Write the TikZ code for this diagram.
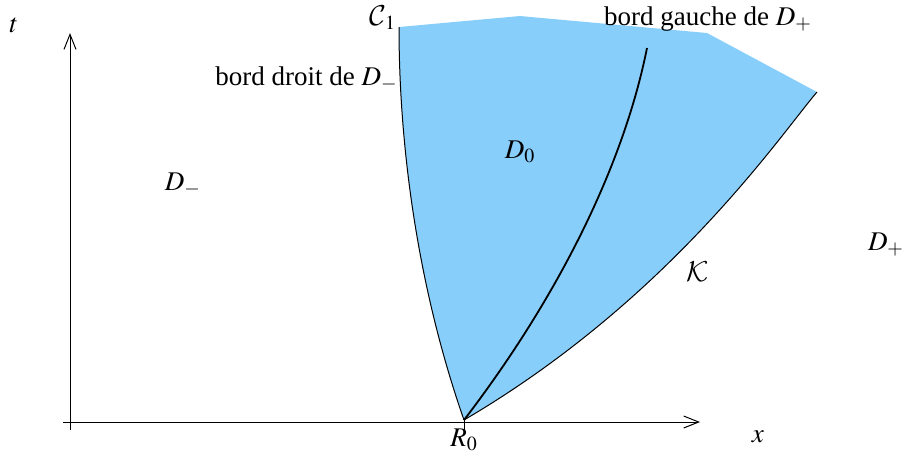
\documentclass[tikz,border=0pt]{standalone}
\usepackage{mathptmx}
\DeclareMathAlphabet{\mathcal}{OMS}{cmsy}{m}{n}
\usepackage{fontspec}
\setmainfont{Liberation Serif}
\usetikzlibrary{arrows.meta}
\definecolor{zone}{RGB}{135,206,250}
\tikzset{
  axis/.style={line width=0.5pt,-{Straight Barb[length=7.5pt,width=6pt]}},
  bord/.style={line width=0.5pt},
  milieu/.style={line width=0.9pt},
  lab/.style={font=\fontsize{13.5}{16}\selectfont, inner sep=0pt}
}
\begin{document}
\begin{tikzpicture}[x=0.5pt,y=-0.5pt]
\useasboundingbox (0,0) rectangle (905,457);
\coordinate (R) at (464,420);
\coordinate (A) at (399,27);
\coordinate (B) at (520,16);
\coordinate (C) at (707,33);
\coordinate (E) at (817,92);
\coordinate (F) at (647,48);
\coordinate (Ybot) at (70,430);
\coordinate (Ytop) at (70,33);
\coordinate (Xl) at (63,422);
\coordinate (Xr) at (700,422);
\coordinate (T) at (464,432);
% region
\fill[zone] (R) .. controls (418.5,290) and (399,150) .. (A) -- (B) -- (C) -- (E)
  .. controls (781,134) and (671,298.5) .. (R) -- cycle;
% boundaries
\draw[bord] (R) .. controls (418.5,290) and (399,150) .. (A);
\draw[bord] (R) .. controls (671,298.5) and (781,134) .. (E);
\draw[milieu] (R) .. controls (556,300) and (623,168) .. (F);
% axes
\draw[axis] (Ybot) -- (Ytop);
\draw[axis] (Xl) -- (Xr);
\draw[bord] (R) -- (T);
% labels
\node[lab] (t) at (14,25) {$t$};
\node[lab] (x) at (758,437) {$x$};
\node[lab] (r0) at (464,440) {$R_0$};
\node[lab] (c1) at (383,18) {$\mathcal{C}_1$};
\node[lab,anchor=east] (bd) at (398,79) {bord droit de $D_-$};
\node[lab] (bg) at (708,19) {bord gauche de $D_+$};
\node[lab] (d0) at (520,152) {$D_0$};
\node[lab] (dm) at (183,185) {$D_-$};
\node[lab] (dp) at (886,245) {$D_+$};
\node[lab] (k) at (698,272) {$\mathcal{K}$};
\end{tikzpicture}
\end{document}
